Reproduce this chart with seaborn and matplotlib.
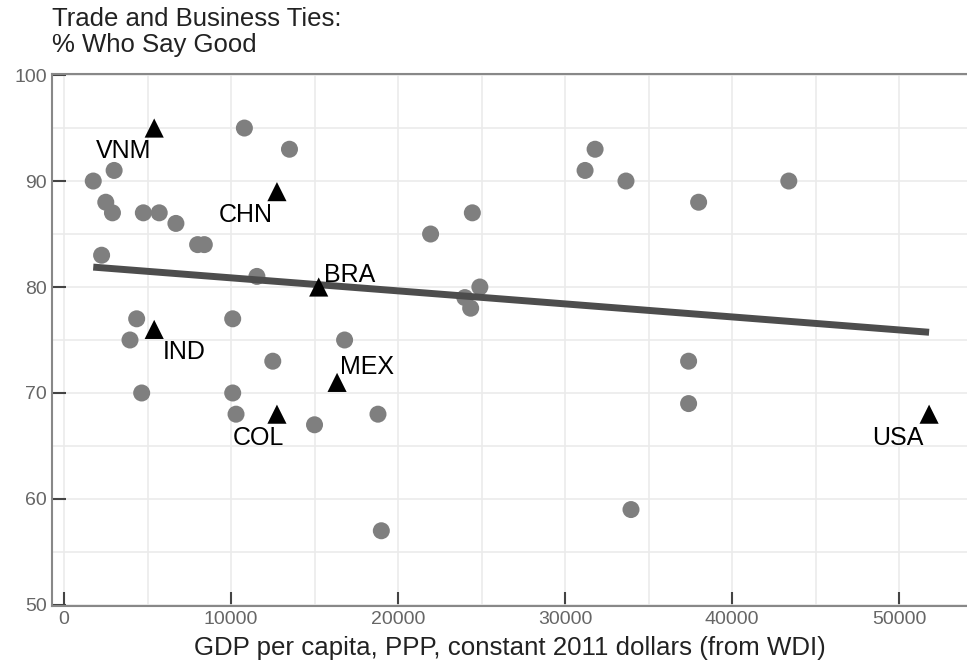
import numpy as np
import pandas as pd
import matplotlib
matplotlib.use('Agg')
import matplotlib.pyplot as plt
from matplotlib.ticker import MultipleLocator
import seaborn as sns

# ===== 数据 =====
# 普通国家（灰色圆点）
gdp_other = [1750, 3000, 2500, 2900, 2250, 4750, 5700, 6700, 8000, 8400,
             10800, 13500, 11550, 21950, 24450, 4350, 3950, 10100, 12500, 16800,
             4650, 10100, 10300, 15000, 18800, 19000,
             31800, 31200, 33650, 38000, 43400, 24900, 24000, 24350, 37400,
             37400, 33950]
pct_other = [90, 91, 88, 87, 83, 87, 87, 86, 84, 84,
             95, 93, 81, 85, 87, 77, 75, 77, 73, 75,
             70, 70, 68, 67, 68, 57,
             93, 91, 90, 88, 90, 80, 79, 78, 73,
             69, 59]

# 标注国家（黑色三角）
codes = ['VNM', 'CHN', 'BRA', 'IND', 'MEX', 'COL', 'USA']
gdp_lab = [5400, 12750, 15250, 5400, 16350, 12750, 51800]
pct_lab = [95, 89, 80, 76, 71, 68, 68]

x_ticks = [0, 10000, 20000, 30000, 40000, 50000]
y_ticks = [50, 60, 70, 80, 90, 100]

df_other = pd.DataFrame({'gdp': gdp_other, 'pct': pct_other})
df_lab = pd.DataFrame({'code': codes, 'gdp': gdp_lab, 'pct': pct_lab})
df_all = pd.concat([df_other, df_lab[['gdp', 'pct']]], ignore_index=True)

sns.set_theme(style='white')
plt.rcParams['font.family'] = ['Liberation Sans', 'DejaVu Sans']

fig = plt.figure(figsize=(9.67, 6.72), dpi=100)
ax = fig.add_axes([52 / 967, 66 / 672, 1 - 52 / 967, (606 - 74) / 672])

sns.scatterplot(data=df_other, x='gdp', y='pct', ax=ax, s=150,
                color='#7f7f7f', edgecolor='none', linewidth=0, zorder=3)
sns.regplot(data=df_all, x='gdp', y='pct', ax=ax, scatter=False, ci=None,
            line_kws={'color': '#4d4d4d', 'lw': 5, 'zorder': 4,
                      'solid_capstyle': 'butt'})
sns.scatterplot(data=df_lab, x='gdp', y='pct', ax=ax, s=190, marker='^',
                color='black', edgecolor='none', linewidth=0, zorder=5)

# 标签位置偏移（像素 -> 点）
offsets = {
    'VNM': (-3, -29.5, 'right'),
    'CHN': (-4, -30, 'right'),
    'BRA': (5, 5.5, 'left'),
    'IND': (9, -30, 'left'),
    'MEX': (3, 8, 'left'),
    'COL': (7, -30.5, 'right'),
    'USA': (-6, -31, 'right'),
}
for c, gx, py in zip(codes, gdp_lab, pct_lab):
    dx, dy, ha = offsets[c]
    ax.annotate(c, (gx, py), xytext=(dx * 0.72, dy * 0.72),
                textcoords='offset points', ha=ha, va='baseline',
                fontsize=18, color='black', zorder=6)

ax.set_xlim(-720, 54070)
ax.set_ylim(49.9, 100.1)
ax.set_xticks(x_ticks)
ax.set_yticks(y_ticks)
ax.xaxis.set_minor_locator(MultipleLocator(5000))
ax.yaxis.set_minor_locator(MultipleLocator(5))
ax.grid(True, which='both', color='#ebebeb', lw=1.2, zorder=0)
ax.set_axisbelow(True)

# 刻度朝内
ax.tick_params(axis='both', which='major', direction='in', length=10,
               width=1.5, color='#444444', labelsize=14,
               labelcolor='#666666', pad=3.5, bottom=True, left=True)
ax.tick_params(axis='both', which='minor', length=0)

for side in ['left', 'bottom', 'top']:
    ax.spines[side].set_visible(True)
    ax.spines[side].set_color('#888888')
    ax.spines[side].set_linewidth(1.5)
ax.spines['right'].set_visible(False)

ax.set_xlabel('GDP per capita, PPP, constant 2011 dollars (from WDI)',
              fontsize=18.6, color='#222222', labelpad=6)
ax.set_ylabel('')

fig.text(52 / 967, 1 - 7 / 672, 'Trade and Business Ties:\n% Who Say Good',
         ha='left', va='top', fontsize=18.5, color='#222222', linespacing=1.1)

plt.savefig('out.png', dpi=100)
